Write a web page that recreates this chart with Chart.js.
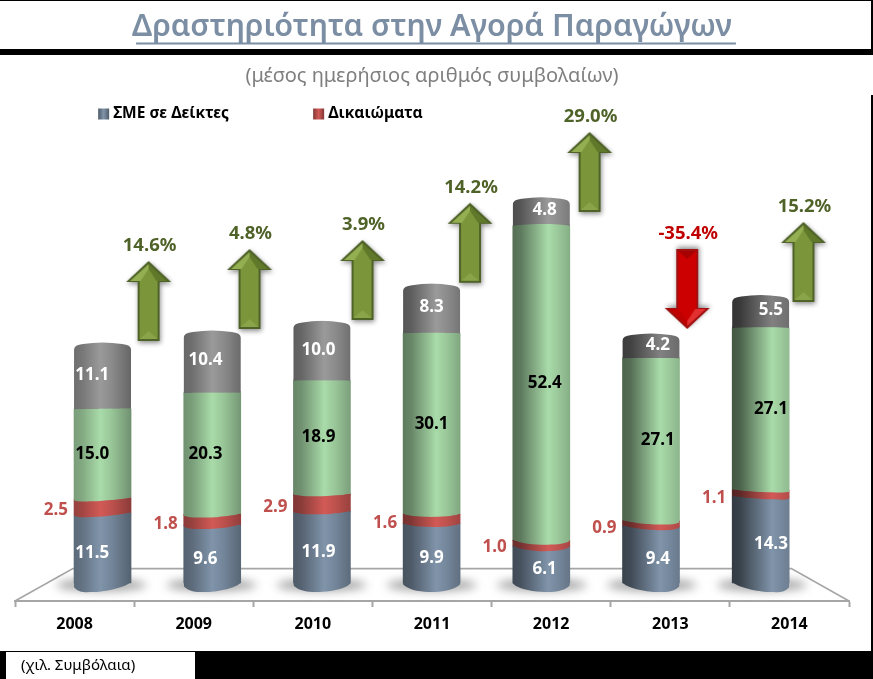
<!DOCTYPE html>
<html lang="el"><head><meta charset="utf-8">
<style>html,body{margin:0;padding:0;background:#fff}#w{width:873px;height:679px;position:relative}canvas{display:block}</style>
<script src="https://cdn.jsdelivr.net/npm/chart.js@4"></script>
</head><body><div id="w"><canvas id="c" width="873" height="679"></canvas></div>
<script>
const years = ['2008','2009','2010','2011','2012','2013','2014'];
const indexFutures = [11.5, 9.6, 11.9, 9.9, 6.1, 9.4, 14.3];
const indexOptions = [2.5, 1.8, 2.9, 1.6, 1.0, 0.9, 1.1];
const greenSeries = [15.0, 20.3, 18.9, 30.1, 52.4, 27.1, 27.1];
const greySeries = [11.1, 10.4, 10.0, 8.3, 4.8, 4.2, 5.5];
const changePct = [14.6, 4.8, 3.9, 14.2, 29.0, -35.4, 15.2];
const arrowSlot = [0.42, 1.34, 2.37, 3.35, 4.44, 5.33, 6.39];
const arrowLevel = [47, 49, 50.5, 56.7, 68.5, 49, 53.5];
const titleText = 'Δραστηριότητα στην Αγορά Παραγώγων';
const subtitleText = '(μέσος ημερήσιος αριθμός συμβολαίων)';
const unitText = '(χιλ. Συμβόλαια)';
const legendNames = ['ΣΜΕ σε Δείκτες', 'Δικαιώματα'];

const FONT = '"Noto Sans"';
const BAR_W = 57;
const hues = {blue:[128,148,170], red:[210,90,86], green:[169,219,169], grey:[154,154,154]};
const mul = (c,m)=>`rgb(${c.map(v=>Math.round(v*m)).join(',')})`;
function cylFill(c){
  return (ctx)=>{
    const chart=ctx.chart, sx=chart.scales.x;
    if(ctx.type!=='data'||!sx||!chart.chartArea) return mul(c,0.8);
    const i=ctx.dataIndex, t=i/6;
    const xc=sx.getPixelForValue(i), g=chart.ctx.createLinearGradient(xc-BAR_W/2,0,xc+BAR_W/2,0);
    const L=0.72-0.32*t, R=0.66+0.2*t, hp=0.46+0.24*t, dim=c===hues.grey?(i>=5?0.84:1):1;
    g.addColorStop(0,mul(c,L*dim)); g.addColorStop(0.14,mul(c,(L+0.05)*dim));
    g.addColorStop(hp,mul(c,1*dim)); g.addColorStop(Math.min(0.97,hp+0.2),mul(c,0.9*dim)); g.addColorStop(1,mul(c,R*dim));
    return g;
  };
}
function makeArrow(up,pal){
  const w=64,h=100,cv=document.createElement('canvas'); cv.width=w;cv.height=h;
  const g=cv.getContext('2d'), cx=w/2, top=10, hb=31, bot=90, hw=22.5, sw=11;
  g.translate(0,up?0:h); g.scale(1,up?1:-1);
  const outline=()=>{g.beginPath();g.moveTo(cx,top);g.lineTo(cx+hw,hb);g.lineTo(cx+sw,hb);g.lineTo(cx+sw,bot);g.lineTo(cx-sw,bot);g.lineTo(cx-sw,hb);g.lineTo(cx-hw,hb);g.closePath();};
  g.save(); g.shadowColor='rgba(0,0,0,.45)'; g.shadowBlur=5; g.shadowOffsetY=up?2:-2; g.shadowOffsetX=1; outline(); g.fillStyle=pal.edge; g.fill(); g.restore();
  const poly=(pts,f)=>{g.beginPath();pts.forEach((p,k)=>k?g.lineTo(p[0],p[1]):g.moveTo(p[0],p[1]));g.closePath();g.fillStyle=f;g.fill();};
  poly([[cx-sw+2,hb-2],[cx+sw-2,hb-2],[cx+sw-2,bot-2],[cx-sw+2,bot-2]],pal.body);
  poly([[cx-sw+2,bot-2],[cx+sw-2,bot-2],[cx,bot-10]],pal.foot);
  poly([[cx,top+3],[cx-hw+4,hb-1],[cx,hb-1]],pal.lit);
  poly([[cx,top+3],[cx+hw-4,hb-1],[cx,hb-1]],pal.dark);
  poly([[cx-8,hb-1],[cx+8,hb-1],[cx,hb-13]],pal.body);
  return cv;
}
const upArrow=makeArrow(true,{edge:'#4f6228',body:'#7a953a',foot:'#8aa549',lit:'#94af52',dark:'#5f7829'});
const downArrow=makeArrow(false,{edge:'#a01010',body:'#cc0000',foot:'#a80000',lit:'#c00000',dark:'#e23030'});

const num=v=>v.toFixed(1);
const topOf=(chart,i)=>chart.scales.y.getPixelForValue(indexFutures[i]+indexOptions[i]+greenSeries[i]+greySeries[i]);
function curve(g,xL,xR,y,i){
  const d=(y-400)/183, k=d>0?d*d*5.6:d*1.6, tilt=(3-i)/3*Math.max(0,(y-380)/200)*2.6;
  const ly=y+tilt, ry=y-tilt, cpx=(xL+xR)/2-(3-i)*3, b=y+k*1.33;
  g.lineTo(xL,ly); g.bezierCurveTo(xL+6,ly+k*1.1,cpx-8,b,cpx,b); g.bezierCurveTo(cpx+8,b,xR-6,ry+k*1.1,xR,ry);
}
function fillBand(g,xL,xR,y,i,upper,lower){
  const w=xR-xL, Y=Math.round(y);
  g.save();g.beginPath();g.rect(xL,Y-2,w,26);g.clip();
  g.beginPath();g.moveTo(xL,Y-24);curve(g,xL,xR,y,i);g.lineTo(xR,Y-24);g.closePath();g.fillStyle=upper;g.fill();g.restore();
  if(lower){g.save();g.beginPath();g.rect(xL,Y-24,w,26);g.clip();
  g.beginPath();g.moveTo(xL,Y+24);curve(g,xL,xR,y,i);g.lineTo(xR,Y+24);g.closePath();g.fillStyle=lower;g.fill();g.restore();}
}
const page={id:'page',
  beforeDraw(chart){
    const g=chart.ctx; g.save(); g.fillStyle='#fff'; g.fillRect(0,0,873,679);
    g.fillStyle='#000';
    g.fillRect(0,0,873,1); g.fillRect(871,0,2,54); g.fillRect(0,49,873,6);
    g.fillRect(871,95,2,560); g.fillRect(0,651,873,28);
    g.fillStyle='#fff'; g.fillRect(6,652,189,27);
    g.restore();
  },
  beforeDatasetsDraw(chart){
    const g=chart.ctx,{x,y}=chart.scales,a=chart.chartArea; g.save();
    const by=y.getPixelForValue(2.4), fy=a.bottom, bl=x.getPixelForValue(-0.27), br=x.getPixelForValue(6.28);
    g.strokeStyle='#a6a6a6'; g.lineWidth=1.6;
    g.beginPath(); g.moveTo(a.left,fy); g.lineTo(bl,by); g.lineTo(br,by); g.lineTo(a.right,fy); g.stroke();
    years.forEach((_,i)=>{
      const xc=x.getPixelForValue(i);
      g.save(); g.filter='blur(5px)'; g.fillStyle='rgba(110,110,110,.6)';
      g.beginPath(); g.ellipse(xc-(3-i)*0.4,y.getPixelForValue(0)+2,45,6.5,0,0,Math.PI*2); g.fill(); g.restore();
    });
    g.restore();
  },
  beforeDatasetDraw(chart,args){
    if(args.index!==3) return;
    const g=chart.ctx,x=chart.scales.x,y=chart.scales.y; g.save(); g.beginPath();
    years.forEach((_,i)=>{
      const xc=x.getPixelForValue(i), l=xc-BAR_W/2, r=xc+BAR_W/2, t=topOf(chart,i), b=y.getPixelForValue(0)+20;
      g.moveTo(l,b); g.lineTo(l,t+7); g.quadraticCurveTo(l,t+2.6,l+9,t+1.6); g.quadraticCurveTo(xc,t-1.6,r-9,t+1.6); g.quadraticCurveTo(r,t+2.6,r,t+7); g.lineTo(r,b); g.closePath();
    });
    g.clip();
  },
  afterDatasetDraw(chart,args){
    if(args.index===3){chart.ctx.restore();return;}
    if(args.index!==0) return;
    const g=chart.ctx,y=chart.scales.y, metas=[0,1,2,3].map(k=>chart.getDatasetMeta(k));
    years.forEach((_,i)=>{
      const els=metas.map(m=>m.data[i]), l=els[0].x-BAR_W/2, r=els[0].x+BAR_W/2;
      fillBand(g,l,r,y.getPixelForValue(0)+1.5,i,els[0].options.backgroundColor,null);
      for(let k=1;k<4;k++) fillBand(g,l,r,els[k].base,i,els[k].options.backgroundColor,els[k-1].options.backgroundColor);
    });
  },
  afterDatasetsDraw(chart){
    const g=chart.ctx,{x,y}=chart.scales; g.save();
    g.textAlign='center'; g.textBaseline='middle';
    const series=[indexFutures,indexOptions,greenSeries,greySeries], shift=[4.5,4,0,-1], col=['#fff','#c0504d','#000','#fff'];
    g.font=`700 17px ${FONT}`;
    series.forEach((s,k)=>{
      const m=chart.getDatasetMeta(k);
      s.forEach((v,i)=>{
        const el=m.data[i], my=(el.base+el.y)/2+shift[k];
        g.fillStyle=col[k];
        if(k===1){g.textAlign='right'; g.fillText(num(v),el.x-BAR_W/2-6,my); g.textAlign='center';}
        else g.fillText(num(v),el.x+(i-3)*3.4,my);
      });
    });
    g.font=`700 18.5px ${FONT}`;
    const am=chart.getDatasetMeta(4);
    changePct.forEach((p,i)=>{
      const pt=am.data[i]; g.fillStyle=p<0?'#c00000':'#4f6228';
      g.fillText(num(p)+'%',pt.x+1,pt.y-40-15);
    });
    g.font=`700 15.5px ${FONT}`; g.textAlign='left';
    const lx=[x.getPixelForValue(-0.04),x.getPixelForValue(1.92)], ly=y.getPixelForValue(0)-469;
    legendNames.forEach((n,k)=>{
      const c=chart.data.datasets[k].legendColor;
      const gr=g.createLinearGradient(lx[k],0,lx[k]+11,0); gr.addColorStop(0,mul(c,0.62)); gr.addColorStop(0.5,mul(c,1)); gr.addColorStop(1,mul(c,0.62));
      g.fillStyle=gr; g.fillRect(lx[k],ly-5.5,11,11);
      g.fillStyle='#000'; g.fillText(n,lx[k]+15,ly);
    });
    const tb=chart.titleBlock;
    if(tb){ const f=tb.options.font; g.font=`${f.weight} ${f.size}px ${FONT}`;
      const tw=g.measureText(titleText).width; g.strokeStyle=tb.options.color; g.lineWidth=2;
      g.beginPath(); g.moveTo(436-tw/2,43.5); g.lineTo(436+tw/2,43.5); g.stroke(); }
    g.font=`400 15px ${FONT}`; g.fillStyle='#000'; g.textAlign='left';
    g.fillText(unitText,21,666);
    g.restore();
  }
};
const pts=s=>s.map((v,i)=>({x:i,y:v}));
new Chart(document.getElementById('c'),{
  type:'bar',
  data:{labels:years,datasets:[
    {label:legendNames[0],data:pts(indexFutures),backgroundColor:cylFill(hues.blue),legendColor:hues.blue,stack:'s',order:1,barThickness:BAR_W},
    {label:legendNames[1],data:pts(indexOptions),backgroundColor:cylFill(hues.red),legendColor:hues.red,stack:'s',order:1,barThickness:BAR_W},
    {label:'',data:pts(greenSeries),backgroundColor:cylFill(hues.green),stack:'s',order:1,barThickness:BAR_W},
    {label:'',data:pts(greySeries),backgroundColor:cylFill(hues.grey),stack:'s',order:1,barThickness:BAR_W},
    {type:'scatter',label:'',data:arrowSlot.map((v,i)=>({x:v,y:arrowLevel[i]})),stack:'arrows',order:0,pointRadius:10,
      pointStyle:(c)=>changePct[c.dataIndex]<0?downArrow:upArrow}
  ]},
  options:{
    responsive:false,animation:false,events:[],
    layout:{padding:{left:15,right:24,top:0,bottom:0}},
    plugins:{
      legend:{display:false},tooltip:{enabled:false},
      title:{display:true,text:titleText,color:'#7b8ea3',font:{family:FONT,size:30.5,weight:'600'},padding:{top:9,bottom:5.4},fullSize:true},
      subtitle:{display:true,text:subtitleText,color:'#7f7f7f',font:{family:FONT,size:20,weight:'400'},padding:{top:13,bottom:15}}
    },
    scales:{
      x:{type:'linear',display:false,min:-0.798,max:6.805,offset:false,stacked:true,grid:{offset:false}},
      y:{type:'linear',display:false,min:-3,max:80,stacked:true},
      xf:{type:'category',axis:'x',position:'bottom',offset:true,labels:years,
        grid:{display:true,offset:true,drawOnChartArea:false,tickLength:6,tickColor:'#a6a6a6',tickWidth:2},
        border:{display:true,color:'#a6a6a6',width:2},
        ticks:{color:'#000',font:{family:FONT,size:16,weight:'700'},padding:8,maxRotation:0},
        afterFit(s){s.height=78;}
      }
    }
  },
  plugins:[page]
});
</script></body></html>
